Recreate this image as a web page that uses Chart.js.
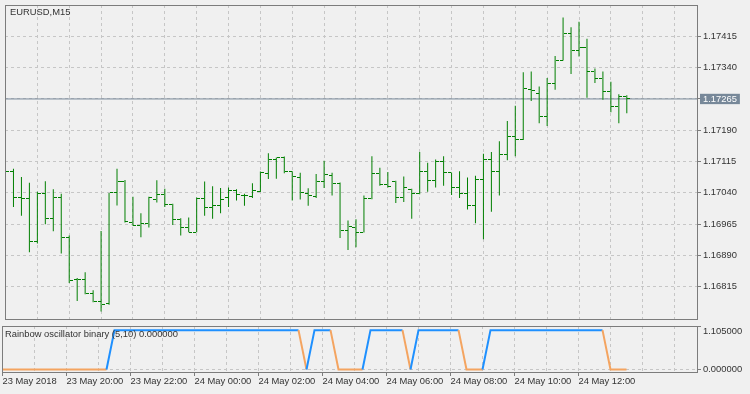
<!DOCTYPE html>
<html>
<head>
<meta charset="utf-8">
<title>EURUSD,M15</title>
<script src="https://cdn.jsdelivr.net/npm/chart.js@4.4.1/dist/chart.umd.min.js"></script>
<style>
    html, body { margin: 0; padding: 0; background: #f0f0f0; }
    #wrap { position: relative; width: 750px; height: 394px; overflow: hidden; }
    #wrap canvas { position: absolute; left: 0; }
    #chart-main { top: 0; }
    #chart-osc { top: 324px; }
</style>
</head>
<body>
<div id="wrap">
    <canvas id="chart-main" width="750" height="324"></canvas>
    <canvas id="chart-osc" width="750" height="70"></canvas>
</div>
<script>
// ==================== DATOS ====================
// EURUSD M15, una barra cada 15 min desde 23 May 18:00

const opens = [
    1.17095, 1.17091, 1.17028, 1.17026, 1.16924, 1.17038, 1.16978, 1.17030, 1.16932, 1.16832,
    1.16833, 1.16799, 1.16781, 1.16774, 1.17040, 1.17067, 1.16969, 1.16963, 1.16966, 1.17024,
    1.17035, 1.17013, 1.16977, 1.16956, 1.16946, 1.17026, 1.17004, 1.17009, 1.17028, 1.17046,
    1.17034, 1.17032, 1.17043, 1.17087, 1.17119, 1.17124, 1.17091, 1.17078, 1.17038, 1.17032,
    1.17067, 1.17082, 1.17062, 1.16950, 1.16957, 1.16946, 1.17026, 1.17087, 1.17059, 1.17067,
    1.17029, 1.17049, 1.17038, 1.17091, 1.17070, 1.17116, 1.17088, 1.17052, 1.17038, 1.17009,
    1.17073, 1.17119, 1.17091, 1.17131, 1.17174, 1.17168, 1.17288, 1.17278, 1.17222, 1.17303,
    1.17358, 1.17421, 1.17380, 1.17388, 1.17331, 1.17315, 1.17282, 1.17246, 1.17272
];

const highs = [
    1.17105, 1.17098, 1.17078, 1.17064, 1.17043, 1.17068, 1.17049, 1.17038, 1.16938, 1.16836,
    1.16850, 1.16807, 1.16949, 1.17040, 1.17098, 1.17071, 1.17031, 1.16991, 1.17031, 1.17070,
    1.17050, 1.17014, 1.16979, 1.16981, 1.17029, 1.17067, 1.17056, 1.17052, 1.17053, 1.17049,
    1.17038, 1.17063, 1.17091, 1.17135, 1.17125, 1.17127, 1.17092, 1.17088, 1.17051, 1.17085,
    1.17117, 1.17088, 1.17065, 1.16974, 1.16977, 1.17034, 1.17128, 1.17100, 1.17090, 1.17069,
    1.17079, 1.17050, 1.17138, 1.17112, 1.17120, 1.17128, 1.17089, 1.17092, 1.17077, 1.17081,
    1.17134, 1.17138, 1.17164, 1.17212, 1.17249, 1.17329, 1.17331, 1.17295, 1.17315, 1.17368,
    1.17460, 1.17437, 1.17450, 1.17409, 1.17338, 1.17331, 1.17306, 1.17276, 1.17274
];

const lows = [
    1.17085, 1.17006, 1.16985, 1.16898, 1.16919, 1.16965, 1.16948, 1.16895, 1.16824, 1.16781,
    1.16797, 1.16778, 1.16756, 1.16772, 1.17010, 1.16969, 1.16961, 1.16934, 1.16957, 1.17017,
    1.17006, 1.16963, 1.16938, 1.16946, 1.16946, 1.16985, 1.16978, 1.16991, 1.17006, 1.17022,
    1.17009, 1.17028, 1.17042, 1.17073, 1.17074, 1.17087, 1.17022, 1.17024, 1.17009, 1.17028,
    1.17052, 1.17034, 1.16932, 1.16903, 1.16910, 1.16945, 1.17025, 1.17057, 1.17053, 1.17016,
    1.17018, 1.16978, 1.17037, 1.17043, 1.17053, 1.17057, 1.17035, 1.17028, 1.17000, 1.16967,
    1.16929, 1.16995, 1.17034, 1.17118, 1.17128, 1.17167, 1.17260, 1.17207, 1.17200, 1.17287,
    1.17357, 1.17325, 1.17367, 1.17268, 1.17303, 1.17263, 1.17233, 1.17207, 1.17231
];

const closes = [
    1.17091, 1.17028, 1.17026, 1.16924, 1.17038, 1.16978, 1.17030, 1.16932, 1.16829, 1.16833,
    1.16799, 1.16781, 1.16772, 1.17040, 1.17067, 1.16971, 1.16963, 1.16966, 1.17028, 1.17035,
    1.17013, 1.16977, 1.16956, 1.16946, 1.17026, 1.17004, 1.17009, 1.17024, 1.17046, 1.17035,
    1.17034, 1.17046, 1.17088, 1.17119, 1.17124, 1.17091, 1.17079, 1.17040, 1.17034, 1.17067,
    1.17083, 1.17062, 1.16950, 1.16959, 1.16946, 1.17026, 1.17087, 1.17059, 1.17056, 1.17029,
    1.17052, 1.17038, 1.17091, 1.17070, 1.17116, 1.17088, 1.17052, 1.17038, 1.17009, 1.17073,
    1.17119, 1.17091, 1.17131, 1.17174, 1.17168, 1.17290, 1.17285, 1.17222, 1.17303, 1.17358,
    1.17421, 1.17380, 1.17389, 1.17331, 1.17315, 1.17282, 1.17246, 1.17272, 1.17265
];

// Rainbow oscillator binary (5,10): 1 = arriba (azul), 0 = abajo (naranja)
const rainbow = [
    0, 0, 0, 0, 0, 0, 0, 0, 0, 0, 0, 0, 0, 0,
    1, 1, 1, 1, 1, 1, 1, 1, 1, 1, 1, 1, 1, 1, 1, 1, 1, 1, 1, 1, 1, 1, 1, 1,
    0, 1, 1, 1, 0, 0, 0, 0, 1, 1, 1, 1, 1, 0,
    1, 1, 1, 1, 1, 1, 0, 0, 0,
    1, 1, 1, 1, 1, 1, 1, 1, 1, 1, 1, 1, 1, 1, 1,
    0, 0, 0
];

const priceTicks = [1.16815, 1.16890, 1.16965, 1.17040, 1.17115, 1.17190, 1.17265, 1.17340, 1.17415];
const oscTicks = [0, 1.105];
const timeLabels = [
    '23 May 2018', '23 May 20:00', '23 May 22:00', '24 May 00:00', '24 May 02:00',
    '24 May 04:00', '24 May 06:00', '24 May 08:00', '24 May 10:00', '24 May 12:00'
];

// ==================== ESTILO ====================

const GREEN  = '#007f00';
const BLUE   = '#1e90ff';
const ORANGE = '#f4a460';
const GRID   = '#c6c6c6';
const FRAME  = '#7c7c7c';
const TEXT   = '#333333';
const BIDCOL = '#778899';
const FONT   = { family: "'Liberation Sans', Arial, sans-serif", size: 9.4, lineHeight: 1.2 };

const BARS_PER_GRID  = 4;   // 1 hora
const BARS_PER_LABEL = 8;   // 2 horas
const X_MIN = -0.0625;
const X_MAX = 86.8125;
const Y_MIN = 1.167379;
const Y_MAX = 1.174901;
const OSC_MIN = -0.0635;
const OSC_MAX = 1.105;

const bid = closes[closes.length - 1];

// marcas de apertura (izquierda) y cierre (derecha) como pointStyle
function tickImage(side) {
    const c = document.createElement('canvas');
    c.width = 7;
    c.height = 1;
    const g = c.getContext('2d');
    g.fillStyle = GREEN;
    g.fillRect(side === 'left' ? 0 : 4, 0, 3, 1);
    return c;
}

function hourTicks(scale) {
    const t = [];
    for (let v = 0; v <= X_MAX; v += BARS_PER_GRID) t.push({ value: v });
    scale.ticks = t;
}

// marco del panel + texto de la esquina
const panelFrame = {
    id: 'panelFrame',
    beforeDatasetsDraw(chart) {
        chart.ctx.imageSmoothingEnabled = false;
    },
    afterDatasetsDraw(chart, args, opts) {
        const { ctx, chartArea: a } = chart;
        ctx.save();
        ctx.strokeStyle = FRAME;
        ctx.lineWidth = 1;
        ctx.strokeRect(a.left + 0.5, a.top + 0.5, a.right - a.left, a.bottom - a.top);
        ctx.font = `${FONT.size}px ${FONT.family}`;
        ctx.fillStyle = TEXT;
        ctx.textBaseline = 'middle';
        ctx.fillText(opts.text, a.left + opts.dx, a.top + opts.dy);
        ctx.restore();
    }
};

// ==================== GRAFICO PRECIO ====================

new Chart(document.getElementById('chart-main'), {
    type: 'bar',
    plugins: [panelFrame],
    data: {
        datasets: [
            {
                type: 'bar',
                data: highs.map((h, i) => ({ x: i, y: [lows[i], h] })),
                backgroundColor: GREEN,
                barThickness: 1,
                inflateAmount: 0,
                borderWidth: 0,
            },
            {
                type: 'scatter',
                data: opens.map((o, i) => ({ x: i, y: o })),
                pointStyle: tickImage('left'),
                pointRadius: 1,
            },
            {
                type: 'scatter',
                data: closes.map((c, i) => ({ x: i, y: c })),
                pointStyle: tickImage('right'),
                pointRadius: 1,
            },
            {
                type: 'line',
                data: [{ x: X_MIN, y: bid }, { x: X_MAX, y: bid }],
                borderColor: BIDCOL,
                borderWidth: 1,
                pointRadius: 0,
            }
        ]
    },
    options: {
        responsive: false,
        animation: false,
        events: [],
        layout: { padding: { left: 2, top: 2, right: 0, bottom: 1 } },
        plugins: {
            legend: { display: false },
            tooltip: { enabled: false },
            panelFrame: { text: 'EURUSD,M15', dx: 5, dy: 7.5 }
        },
        scales: {
            x: {
                type: 'linear',
                min: X_MIN,
                max: X_MAX,
                bounds: 'data',
                offset: false,
                afterBuildTicks: hourTicks,
                afterFit: s => { s.height = 0; s.paddingLeft = 0; s.paddingRight = 0; },
                grid: { color: GRID, drawTicks: false, offset: false },
                border: { display: false, dash: [3, 3] },
                ticks: { display: false }
            },
            y: {
                type: 'linear',
                position: 'right',
                min: Y_MIN,
                max: Y_MAX,
                bounds: 'data',
                beginAtZero: false,
                afterBuildTicks: s => { s.ticks = priceTicks.map(v => ({ value: v })); },
                afterFit: s => { s.width = 53; s.paddingTop = 0; s.paddingBottom = 0; },
                grid: { color: GRID, drawTicks: true, tickLength: 4, tickColor: FRAME },
                border: { display: false, dash: [3, 3] },
                ticks: {
                    padding: 2,
                    font: { ...FONT, lineHeight: 1.1 },
                    color: c => c.tick.value === bid ? '#ffffff' : TEXT,
                    showLabelBackdrop: c => c.tick.value === bid,
                    backdropColor: BIDCOL,
                    backdropPadding: { left: 3, right: 3, top: 0, bottom: 0 },
                    callback: v => v.toFixed(5)
                }
            }
        }
    }
});

// ==================== GRAFICO OSCILADOR ====================

new Chart(document.getElementById('chart-osc'), {
    type: 'line',
    plugins: [panelFrame],
    data: {
        datasets: [{
            data: rainbow.map((v, i) => ({ x: i, y: v })),
            borderColor: BLUE,
            borderWidth: 2,
            pointRadius: 0,
            tension: 0,
            segment: {
                borderColor: c => c.p1.parsed.y > 0.5 ? BLUE : ORANGE
            }
        }]
    },
    options: {
        responsive: false,
        animation: false,
        events: [],
        layout: { padding: { left: 2, top: 2, right: 0, bottom: 0 } },
        plugins: {
            legend: { display: false },
            tooltip: { enabled: false },
            panelFrame: {
                text: `Rainbow oscillator binary (5,10) ${rainbow[rainbow.length - 1].toFixed(6)}`,
                dx: 3,
                dy: 8.7
            }
        },
        scales: {
            x: {
                type: 'linear',
                min: X_MIN,
                max: X_MAX,
                bounds: 'data',
                afterBuildTicks: hourTicks,
                afterFit: s => { s.height = 22; s.paddingLeft = 0; s.paddingRight = 0; },
                grid: {
                    color: GRID,
                    drawTicks: true,
                    tickLength: 4,
                    tickColor: c => (c.tick.value % BARS_PER_LABEL === 0 &&
                        c.tick.value / BARS_PER_LABEL < timeLabels.length) ? FRAME : 'rgba(0,0,0,0)'
                },
                border: { display: false, dash: [3, 3] },
                ticks: {
                    autoSkip: false,
                    maxRotation: 0,
                    minRotation: 0,
                    align: 'start',
                    padding: 0,
                    font: FONT,
                    color: TEXT,
                    callback: v => v % BARS_PER_LABEL === 0 ? (timeLabels[v / BARS_PER_LABEL] || '') : ''
                }
            },
            y: {
                type: 'linear',
                position: 'right',
                min: OSC_MIN,
                max: OSC_MAX,
                bounds: 'data',
                afterBuildTicks: s => { s.ticks = oscTicks.map(v => ({ value: v })); },
                afterFit: s => { s.width = 53; s.paddingTop = 0; s.paddingBottom = 0; },
                grid: { color: GRID, drawTicks: true, tickLength: 4, tickColor: FRAME },
                border: { display: false, dash: [3, 3] },
                ticks: {
                    padding: 2,
                    font: FONT,
                    color: TEXT,
                    // la etiqueta superior va debajo de su marca, como en el terminal
                    callback: v => v === OSC_MAX ? ['', v.toFixed(6)] : v.toFixed(6)
                }
            }
        }
    }
});
</script>
</body>
</html>
